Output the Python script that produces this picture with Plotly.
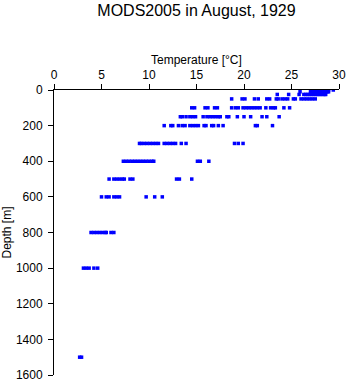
import plotly.graph_objects as go

# Temperature profiles [°C] at each standard depth [m]
depths = [0, 10, 25, 50, 100, 150, 200, 300, 400, 500, 600, 800, 1000, 1500]

temp_0 = [27.1, 27.3, 27.5, 27.6, 27.8, 28.0, 28.1, 28.3, 28.5, 28.6, 28.8, 28.9, 29.4]
temp_10 = [25.9, 27.0, 27.2, 27.4, 27.6, 27.8, 28.0, 28.2, 28.4, 28.6, 28.8, 28.9]
temp_25 = [23.5, 24.7, 25.8, 26.3, 26.5, 26.7, 26.9, 27.1, 27.3, 27.5, 27.7, 27.9,
           28.1, 28.3, 28.5, 28.6]
temp_50 = [18.7, 19.8, 20.1, 21.1, 21.5, 22.4, 22.7, 23.4, 23.6, 24.0, 24.3, 24.6,
           25.2, 25.4, 26.0, 26.3, 26.6, 26.9, 27.2, 27.5]
temp_100 = [14.5, 14.8, 15.9, 16.2, 16.9, 17.2, 18.7, 19.1, 19.4, 19.9, 20.2, 20.5,
            20.8, 21.1, 21.4, 21.7, 22.3, 22.8, 23.1, 23.3, 24.2, 24.8]
temp_150 = [13.3, 13.5, 13.9, 14.3, 14.6, 14.9, 15.7, 16.1, 16.4, 16.7, 17.0, 17.3,
            17.5, 18.2, 18.4, 19.3, 20.0, 20.7, 21.9, 22.4, 23.7]
temp_200 = [11.6, 12.3, 12.5, 13.1, 13.5, 13.8, 14.3, 14.6, 14.9, 15.2, 15.8, 16.0,
            16.6, 16.8, 17.3, 17.8, 21.2, 21.4, 23.0]
temp_300 = [9.0, 9.2, 9.5, 9.8, 10.1, 10.4, 10.7, 11.0, 11.6, 11.9, 12.2, 12.5,
            12.8, 13.4, 13.9, 19.0, 19.4, 19.9]
temp_400 = [7.3, 7.6, 7.9, 8.2, 8.5, 8.8, 9.1, 9.4, 9.7, 10.0, 10.3, 10.5,
            15.1, 15.4, 16.3]
temp_500 = [5.8, 6.3, 6.6, 6.9, 7.2, 7.4, 8.0, 8.3, 12.9, 13.2, 14.5]
temp_600 = [5.0, 5.5, 5.8, 6.3, 6.6, 6.9, 9.7, 10.6, 11.4]
temp_800 = [3.9, 4.2, 4.5, 4.8, 5.1, 5.4, 5.5, 6.0, 6.3]
temp_1000 = [3.1, 3.4, 3.7, 4.2, 4.6]
temp_1500 = [2.7, 2.9]

profiles = [temp_0, temp_10, temp_25, temp_50, temp_100, temp_150, temp_200,
            temp_300, temp_400, temp_500, temp_600, temp_800, temp_1000, temp_1500]

xs, ys = [], []
for d, temps in zip(depths, profiles):
    xs.extend(temps)
    ys.extend([d] * len(temps))

x_ticks = [0, 5, 10, 15, 20, 25, 30]
y_ticks = [0, 200, 400, 600, 800, 1000, 1200, 1400, 1600]

font_family = "Liberation Sans, Arial, sans-serif"

fig = go.Figure(
    go.Scatter(
        x=xs, y=ys, mode="markers",
        marker=dict(symbol="square", size=3.5, color="#0000ff", line=dict(width=0)),
        hoverinfo="x+y",
    )
)

fig.update_layout(
    width=348, height=384,
    margin=dict(l=54, r=9, t=90, b=9, autoexpand=False),
    paper_bgcolor="white", plot_bgcolor="white",
    showlegend=False,
    font=dict(family=font_family, size=12, color="black"),
    title=dict(
        text="MODS2005 in August, 1929",
        x=0.5, xref="paper", xanchor="center",
        y=1 - 10 / 384, yref="container", yanchor="middle",
        font=dict(size=16, family=font_family, color="black"),
        automargin=False,
    ),
    annotations=[
        dict(
            text="Temperature [°C]", xref="paper", yref="paper",
            x=0.5, y=1, xanchor="center", yanchor="middle", yshift=30,
            showarrow=False, font=dict(size=12, family=font_family, color="black"),
        )
    ],
)

fig.update_xaxes(
    side="top", range=[0, 30], tickvals=x_ticks, automargin=False,
    showline=True, linecolor="black", linewidth=1, mirror=False,
    ticks="outside", ticklen=5, tickcolor="black", tickwidth=1,
    showgrid=False, zeroline=False,
    tickfont=dict(size=12),
)

fig.update_yaxes(
    range=[1600, 0], tickvals=y_ticks, automargin=False,
    showline=True, linecolor="black", linewidth=1, mirror=False,
    ticks="outside", ticklen=5, tickcolor="black", tickwidth=1,
    showgrid=False, zeroline=False,
    title=dict(text="Depth [m]", font=dict(size=12), standoff=4),
    tickfont=dict(size=12),
    ticklabelstandoff=3,
)

fig.write_html("out.html")
